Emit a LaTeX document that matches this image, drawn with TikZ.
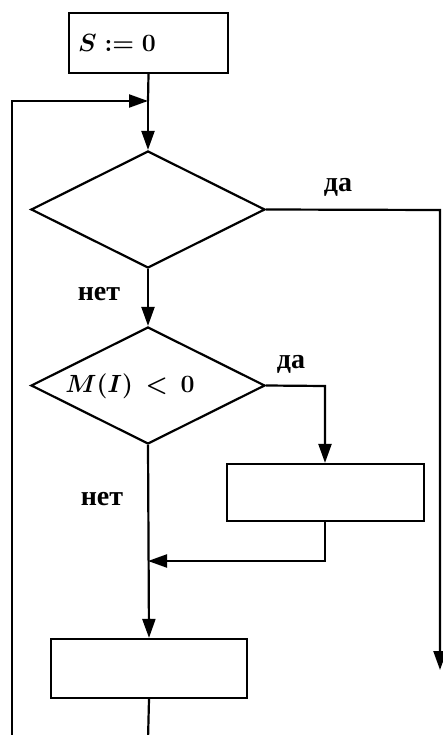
\documentclass[tikz,border=0pt]{standalone}
\usepackage{fontspec}
\newfontfamily\cyr{Liberation Serif}
\usetikzlibrary{shapes.geometric,arrows.meta}
\begin{document}
\begin{tikzpicture}[x=1pt,y=-1pt,
  every node/.style={font=\fontsize{28}{32}\selectfont\boldmath},
  arr/.style={line width=2.2pt,-{Triangle[length=19pt,width=13pt]}},
  blk/.style={draw,line width=2.2pt,rectangle,inner sep=0pt},
  dec/.style={draw,line width=2.2pt,diamond,aspect=2,inner sep=0pt,minimum width=234pt,minimum height=117pt},
  lbl/.style={font=\fontsize{28}{32}\selectfont\cyr\bfseries}]
\useasboundingbox (0,0) rectangle (443,735);
\fill[white] (0,0) rectangle (443,735);
% nodes
\node[blk,minimum width=159pt,minimum height=60pt,text width=141pt,inner xsep=9pt,align=left] (start) at (148.5,43) {$S := 0$};
\node[dec] (d1) at (148,209.5) {};
\node[dec] (d2) at (148,385.5) {};
\node (d2t) at (130,386) {$M(I)\,<\,0$};
\node[blk,minimum width=197pt,minimum height=57pt] (b2) at (325.5,492.5) {};
\node[blk,minimum width=196pt,minimum height=59pt] (b3) at (149,668.5) {};
% coordinates
\coordinate (j) at (148,101);
\coordinate (lt) at (12,101);
\coordinate (lb) at (12,740);
\coordinate (bb) at (148,740);
\coordinate (m) at (148,561);
\coordinate (r1) at (440,210);
\coordinate (r2) at (440,670);
\coordinate (c2) at (325,386);
\coordinate (c3) at (325,561);
% labels
\node[lbl] (yes1) at (338,187) {да};
\node[lbl] (no1) at (99,294) {нет};
\node[lbl] (yes2) at (291,364) {да};
\node[lbl] (no2) at (102,499) {нет};
% connectors
\draw[line width=2.2pt] (start.south) -- (j);
\draw[arr] (j) -- (d1.north);
\draw[arr] (lb) -- (lt) -- (j);
\draw[arr] (d1.east) -- (r1) -- (r2);
\draw[arr] (d1.south) -- (d2.north);
\draw[arr] (d2.east) -- (c2) -- (b2.north -| c2);
\draw[arr] (b2.south -| c2) -- (c3) -- (m);
\draw[arr] (d2.south) -- (b3.north);
\draw[line width=2.2pt] (b3.south) -- (bb);
\end{tikzpicture}
\end{document}
